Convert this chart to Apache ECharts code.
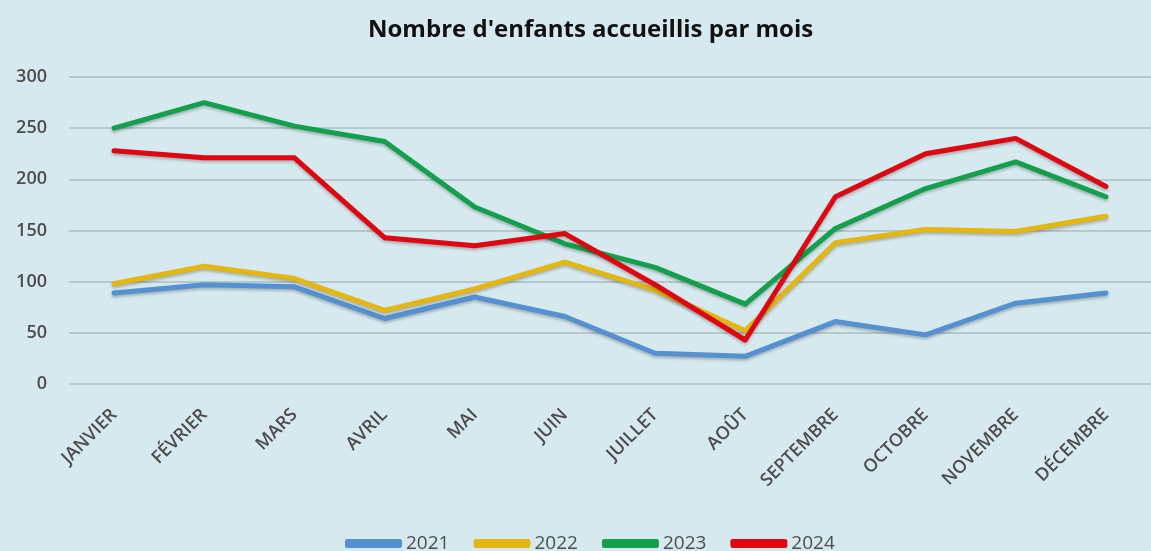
<html lang="fr">
<head>
  <meta charset="utf-8">
  <title>Nombre d'enfants accueillis par mois</title>
  <style>
    html, body { margin: 0; padding: 0; background: #d6e9ef; }
    #chart { width: 1151px; height: 551px; }
  </style>
</head>
<body>
  <div id="chart"></div>
  <script src="https://cdn.jsdelivr.net/npm/echarts@6/dist/echarts.min.js"></script>
  <script>
    var months = ['JANVIER', 'FÉVRIER', 'MARS', 'AVRIL', 'MAI', 'JUIN', 'JUILLET', 'AOÛT',
      'SEPTEMBRE', 'OCTOBRE', 'NOVEMBRE', 'DÉCEMBRE'];
    var y2021 = [89, 97, 95, 64, 85, 66, 30, 27, 61, 48, 79, 89];
    var y2022 = [98, 115, 103, 72, 93, 119, 92, 52, 138, 151, 149, 164];
    var y2023 = [250, 275, 252, 237, 173, 137, 114, 78, 152, 191, 217, 183];
    var y2024 = [228, 221, 221, 143, 135, 147, 97, 43, 183, 225, 240, 193];
    var years = ['2021', '2022', '2023', '2024'];
    var colors = ['#5591d0', '#e3b610', '#12a04a', '#e0060f'];

    var plot = echarts.init(document.getElementById('chart'));

    function line(name, data, color) {
      return {
        name: name,
        type: 'line',
        data: data,
        showSymbol: false,
        color: color,
        lineStyle: {
          width: 5,
          color: color,
          cap: 'round',
          join: 'round',
          shadowColor: 'rgba(0,0,0,0.25)',
          shadowBlur: 3,
          shadowOffsetY: 2
        }
      };
    }

    option = {
      backgroundColor: '#d6e9ef',
      textStyle: { fontFamily: 'Open Sans' },
      title: {
        text: "Nombre d'enfants accueillis par mois",
        left: 363,
        top: 13,
        textStyle: { fontSize: 24, fontWeight: 'bold', color: '#111' }
      },
      legend: {
        data: years,
        top: 529,
        left: 340,
        icon: 'roundRect',
        itemWidth: 57,
        itemHeight: 9,
        itemGap: 24,
        textStyle: { fontSize: 19, color: '#4d4d4d', padding: [0, 0, 0, -1] }
      },
      grid: { left: 69, top: 77, width: 1092, height: 307 },
      xAxis: {
        type: 'category',
        data: months,
        boundaryGap: true,
        axisLine: { show: false },
        axisTick: { show: false },
        axisLabel: {
          rotate: 45,
          margin: 28,
          interval: 0,
          fontSize: 18,
          fontWeight: 600,
          color: '#4d4d4d'
        }
      },
      yAxis: {
        type: 'value',
        min: 0,
        max: 300,
        interval: 50,
        axisLine: { show: false },
        axisTick: { show: false },
        axisLabel: { fontSize: 18, fontWeight: 600, color: '#4d4d4d', margin: 22 },
        splitLine: { lineStyle: { color: '#b7c7cc', width: 2 } }
      },
      series: [
        line(years[0], y2021, colors[0]),
        line(years[1], y2022, colors[1]),
        line(years[2], y2023, colors[2]),
        line(years[3], y2024, colors[3])
      ]
    };
    plot.setOption(option = option);
  </script>
</body>
</html>
